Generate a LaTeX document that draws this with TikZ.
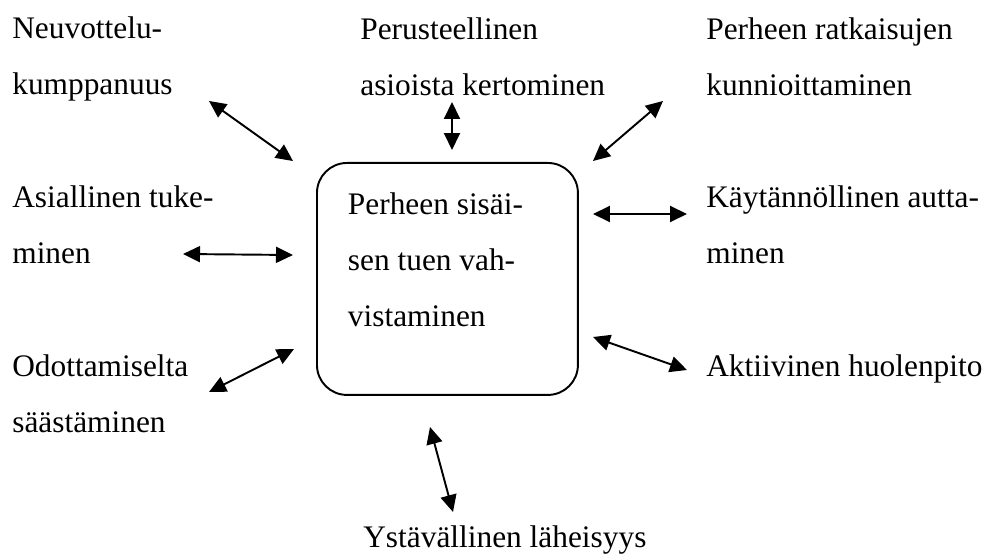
\documentclass[tikz,border=0pt]{standalone}
\usepackage{fontspec}
\setmainfont{Liberation Serif}
\usetikzlibrary{arrows.meta}
\tikzstyle{hub}=[draw,line width=1.1pt,rounded corners=0.6cm,inner xsep=0.62cm,inner ysep=0.59cm]
\tikzstyle{label}=[inner sep=0pt,align=left,anchor=base west]
\tikzstyle{link}=[line width=1.1pt,{Triangle[length=0.34cm,width=0.32cm]}-{Triangle[length=0.34cm,width=0.32cm]}]

\begin{document}
\begin{tikzpicture}[x=0.02cm,y=-0.02cm,font=\fontsize{17.85}{31.9}\selectfont]
  \useasboundingbox (0,0) rectangle (992,554);

  \node[hub,anchor=north west] (hub) at (316,162)
    {\begin{minipage}[t][3.46cm][t]{3.98cm}\raggedright
      Perheen sisäi-\\sen tuen vah-\\vistaminen\end{minipage}};

  % base of the last line of each label
  \foreach \name/\x/\y/\txt in {
      neuvo/12/95/{Neuvottelu-\\kumppanuus},
      perus/360/96/{Perusteellinen\\asioista kertominen},
      ratk/706/96/{Perheen ratkaisujen\\kunnioittaminen},
      asial/12/264/{Asiallinen tuke-\\minen},
      kayt/706/264/{Käytännöllinen autta-\\minen},
      odot/12/433/{Odottamiselta\\säästäminen},
      aktiiv/706/377/{Aktiivinen huolenpito},
      ystav/363/547/{Ystävällinen läheisyys}} {
    \node[label] (\name) at (\x,\y) {\txt};
  }

  % arrows between the labels and the box
  \foreach \name/\ax/\ay/\bx/\by in {
      nw/209/101/293/161, n/452/102/452/150, ne/663/101/593/161,
      w/183/254/293/255, e/593/214/687/214,
      sw/209/392/294/349, se/593/337/687/370, s/430/427/453/512} {
    \coordinate (\name\space a) at (\ax,\ay);
    \coordinate (\name\space b) at (\bx,\by);
    \draw[link] (\name\space a) -- (\name\space b);
  }
\end{tikzpicture}
\end{document}
